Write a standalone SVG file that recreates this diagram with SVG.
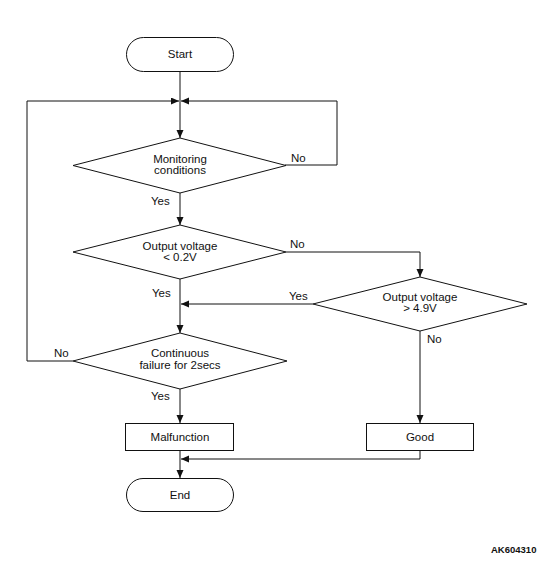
<svg xmlns="http://www.w3.org/2000/svg" width="553" height="568" viewBox="0 0 553 568">
<style>
.s{fill:#fff;stroke:#111;stroke-width:1}
.c{fill:none;stroke:#111;stroke-width:1}
text{font-family:"Liberation Sans",Arial,sans-serif;font-size:11.5px;fill:#111}
.m{text-anchor:middle}
.id{font-weight:bold;font-size:9.5px}
</style>
<defs>
<marker id="ah" markerUnits="userSpaceOnUse" markerWidth="9" markerHeight="8" refX="8" refY="3.5" orient="auto">
<path d="M0,0 L8,3.5 L0,7 Z" fill="#111"/>
</marker>
</defs>
<rect width="553" height="568" fill="#fff"/>
<g id="connectors">
<path class="c" d="M180,72 V138" marker-end="url(#ah)"/>
<path class="c" d="M27,361 V101 H179" marker-end="url(#ah)"/>
<path class="c" d="M285,165 H337 V101 H181" marker-end="url(#ah)"/>
<path class="c" d="M180,193 V225" marker-end="url(#ah)"/>
<path class="c" d="M286,252 H420 V277" marker-end="url(#ah)"/>
<path class="c" d="M180,279 V333" marker-end="url(#ah)"/>
<path class="c" d="M313,304 H181" marker-end="url(#ah)"/>
<path class="c" d="M420,331 V423" marker-end="url(#ah)"/>
<path class="c" d="M73,361 H27"/>
<path class="c" d="M180,389 V423" marker-end="url(#ah)"/>
<path class="c" d="M180,451 V478" marker-end="url(#ah)"/>
<path class="c" d="M420,451 V459 H181" marker-end="url(#ah)"/>
<text x="291" y="162">No</text>
<text x="151" y="205">Yes</text>
<text x="290" y="248">No</text>
<text x="152" y="297">Yes</text>
<text x="289" y="300">Yes</text>
<text x="427" y="343">No</text>
<text x="54" y="357">No</text>
<text x="151" y="400">Yes</text>
</g>
<g id="start">
<rect class="s" x="126.5" y="37.5" width="107" height="34" rx="17" ry="17"/>
<text class="m" x="180" y="58">Start</text>
</g>
<g id="monitoring">
<polygon class="s" points="180,138 286,165.5 180,193 73,165.5"/>
<text class="m" x="180" y="163">Monitoring</text>
<text class="m" x="180" y="174">conditions</text>
</g>
<g id="low">
<polygon class="s" points="180,225 286,252 180,279 73,252"/>
<text class="m" x="180" y="250">Output voltage</text>
<text class="m" x="180" y="261">&lt; 0.2V</text>
</g>
<g id="high">
<polygon class="s" points="420,277 527,304 420,331 313,304"/>
<text class="m" x="420" y="301">Output voltage</text>
<text class="m" x="420" y="312">&gt; 4.9V</text>
</g>
<g id="continuous">
<polygon class="s" points="180,333 287,361 180,389 73,361"/>
<text class="m" x="180" y="357">Continuous</text>
<text class="m" x="180" y="369">failure for 2secs</text>
</g>
<g id="malfunction">
<rect class="s" x="125.5" y="423.5" width="108" height="27"/>
<text class="m" x="180" y="441">Malfunction</text>
</g>
<g id="good">
<rect class="s" x="366.5" y="423.5" width="107" height="27"/>
<text class="m" x="420" y="441">Good</text>
</g>
<g id="end">
<rect class="s" x="126.5" y="478.5" width="107" height="33" rx="16.5" ry="16.5"/>
<text class="m" x="180" y="499">End</text>
</g>
<text class="id" x="491" y="553">AK604310</text>
</svg>
